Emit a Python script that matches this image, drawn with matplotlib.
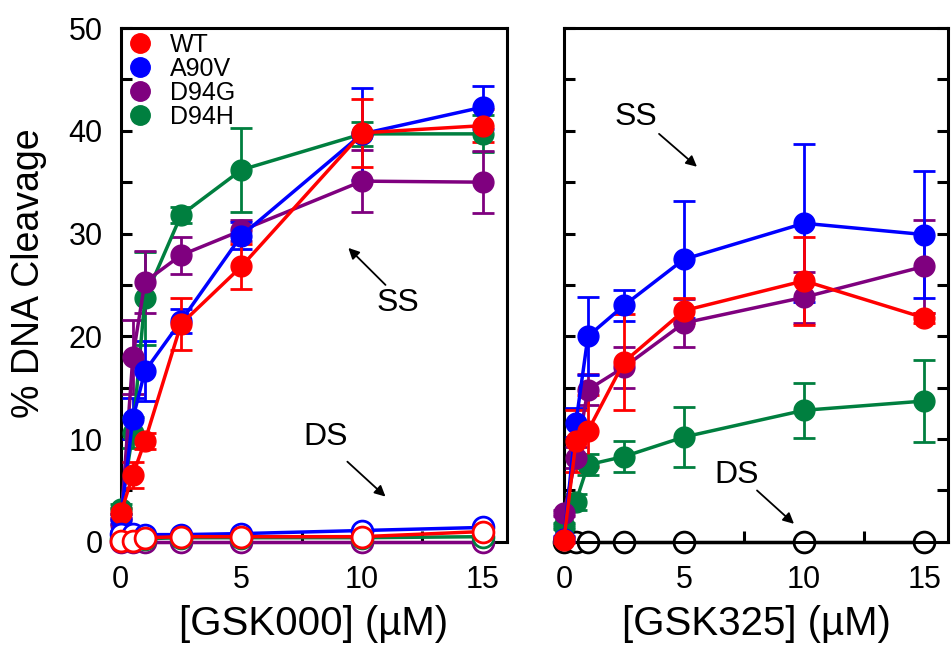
import matplotlib
matplotlib.use("Agg")
import matplotlib.pyplot as plt
from matplotlib.lines import Line2D
import numpy as np

plt.rcParams['font.family'] = ['Liberation Sans', 'DejaVu Sans']

conc = [0, 0.5, 1, 2.5, 5, 10, 15]   # uM
names = ["WT", "A90V", "D94G", "D94H"]
colors = ["#ff0000", "#0000ff", "#7f007f", "#007f3f"]

# GSK000, single-stranded cleavage
ss000 = [[2.8, 6.5, 9.8, 21.2, 26.8, 39.8, 40.5],
         [2.2, 12.0, 16.6, 21.5, 29.8, 39.7, 42.3],
         [1.6, 18.0, 25.3, 27.9, 30.3, 35.1, 35.0],
         [3.2, 10.6, 23.7, 31.8, 36.2, 39.7, 39.7]]
ss000_err = [[0.5, 1.3, 0.8, 2.5, 2.2, 3.3, 1.6],
             [0.5, 2.0, 2.9, 1.2, 1.3, 4.5, 2.1],
             [0.5, 3.6, 3.0, 1.8, 1.0, 3.0, 3.0],
             [0.5, 1.5, 4.5, 0.8, 4.1, 1.2, 1.8]]
# GSK000, double-stranded cleavage
ds000 = [[0.1, 0.1, 0.4, 0.5, 0.5, 0.5, 1.0],
         [0.8, 0.8, 0.7, 0.7, 0.8, 1.1, 1.4],
         [0.0, 0.0, 0.0, 0.0, 0.0, 0.0, 0.0],
         [0.3, 0.3, 0.3, 0.4, 0.4, 0.4, 0.5]]

# GSK325
ss325 = [[0.2, 9.8, 10.8, 17.5, 22.5, 25.4, 21.8],
         [0.3, 11.6, 20.0, 23.0, 27.5, 31.0, 29.9],
         [2.8, 8.2, 14.8, 17.0, 21.3, 23.8, 26.8],
         [1.5, 3.9, 7.5, 8.3, 10.2, 12.8, 13.7]]
ss325_err = [[0.3, 3.0, 3.5, 4.7, 1.2, 4.3, 0.5],
             [0.3, 1.4, 3.8, 1.5, 5.7, 7.7, 6.2],
             [0.3, 1.0, 1.5, 2.0, 2.3, 2.5, 4.5],
             [0.3, 0.8, 1.0, 1.5, 2.9, 2.7, 4.0]]
ds325 = [0, 0, 0, 0, 0, 0, 0]

fig = plt.figure(figsize=(9.51, 6.52), dpi=100)
ax1 = fig.add_axes([0.127, 0.169, 0.406, 0.788])
ax2 = fig.add_axes([0.593, 0.169, 0.404, 0.788])

ms = 15


def ss_series(ax, y, err, c):
    eb = ax.errorbar(conc, y, yerr=err, color=c, lw=2.5, marker='o', ms=ms,
                     mec=c, capsize=8, capthick=2, elinewidth=2, zorder=3)
    eb.lines[0].set_clip_on(False)
    for a in eb.lines[1] + eb.lines[2]:
        a.set_clip_on(False)


# draw D94H first so WT ends on top
for i in [3, 2, 1, 0]:
    ss_series(ax1, ss000[i], ss000_err[i], colors[i])
for i in [2, 3, 1, 0]:
    ax1.plot(conc, ds000[i], color=colors[i], lw=2.5, marker='o', ms=ms,
             mfc='white', mec=colors[i], mew=2, clip_on=False, zorder=4)

ax2.plot(conc, ds325, color='k', lw=2.5, marker='o', ms=ms, mfc='white',
         mec='k', mew=2, clip_on=False, zorder=2)
for i in [3, 2, 1, 0]:
    ss_series(ax2, ss325[i], ss325_err[i], colors[i])

handles = [Line2D([], [], ls='none', marker='o', ms=14, color=c) for c in colors]
ax1.legend(handles, names, loc='upper left', bbox_to_anchor=(0.02, 0.99),
           frameon=False, fontsize=18, handlelength=0.9, handletextpad=0.75,
           labelspacing=0.0, borderaxespad=0.0, borderpad=0.0)

for ax in (ax1, ax2):
    ax.set_xlim(0, 16)
    ax.set_ylim(0, 50)
    ax.set_xticks([0, 5, 10, 15])
    ax.set_xticks([2.5, 7.5, 12.5], minor=True)
    for s in ax.spines.values():
        s.set_linewidth(2.2)
    ax.tick_params(which='both', direction='in', length=8, width=2.2,
                   labelsize=22)
    ax.tick_params(axis='x', which='both', pad=17)

ax1.set_yticks(np.arange(0, 51, 10))
ax1.set_yticks(np.arange(5, 50, 10), minor=True)
ax1.tick_params(axis='y', which='both', pad=13)

ax2.set_yticks(np.arange(0, 51, 5))
ax2.tick_params(axis='y', which='both', left=True, right=True, labelleft=False)

ax1.set_ylabel("% DNA Cleavage", fontsize=27)
ax1.yaxis.set_label_coords(-0.19, 0.523)
ax1.set_xlabel("[GSK000] (µM)", fontsize=29, labelpad=7)
ax2.set_xlabel("[GSK325] (µM)", fontsize=29, labelpad=7)

arr = dict(arrowstyle='-|>', color='k', lw=1.3, mutation_scale=16, shrinkA=0, shrinkB=0)
ax1.annotate("", xy=(9.43, 28.6), xytext=(10.97, 25.0), arrowprops=arr)
ax1.text(11.5, 23.2, "SS", fontsize=23, ha='center', va='center')
ax1.annotate("", xy=(10.97, 4.4), xytext=(9.39, 7.8), arrowprops=arr)
ax1.text(8.48, 10.2, "DS", fontsize=23, ha='center', va='center')
ax2.annotate("", xy=(5.54, 36.5), xytext=(3.96, 39.7), arrowprops=arr)
ax2.text(3.0, 41.3, "SS", fontsize=23, ha='center', va='center')
ax2.annotate("", xy=(9.58, 1.75), xytext=(8.04, 5.0), arrowprops=arr)
ax2.text(7.2, 6.5, "DS", fontsize=23, ha='center', va='center')

fig.savefig("out.png", dpi=100)
